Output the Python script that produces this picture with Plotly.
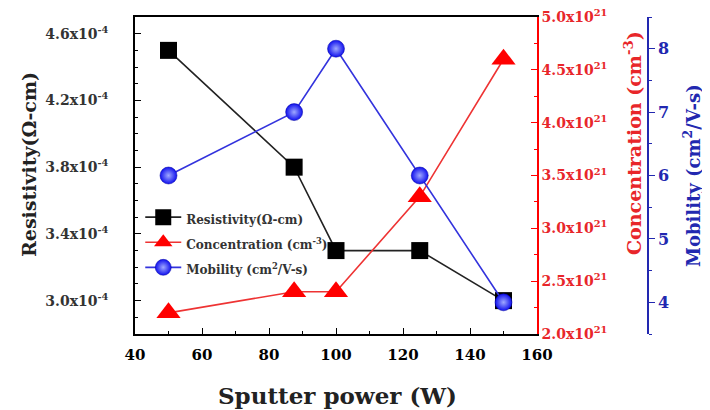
import plotly.graph_objects as go

# ---- data ----
power = [50, 87.5, 100, 125, 150]
resistivity = [4.50e-4, 3.80e-4, 3.30e-4, 3.30e-4, 3.00e-4]
concentration = [2.20e21, 2.40e21, 2.40e21, 3.30e21, 4.60e21]
mobility = [6.0, 7.0, 8.0, 6.0, 4.0]

x_ticks = [40, 60, 80, 100, 120, 140, 160]
res_tickvals = [3.0e-4, 3.4e-4, 3.8e-4, 4.2e-4, 4.6e-4]
res_ticktext = ["3.0x10<sup>-4</sup>", "3.4x10<sup>-4</sup>", "3.8x10<sup>-4</sup>",
                "4.2x10<sup>-4</sup>", "4.6x10<sup>-4</sup>"]
con_tickvals = [2.0e21, 2.5e21, 3.0e21, 3.5e21, 4.0e21, 4.5e21, 5.0e21]
con_ticktext = ["2.0x10<sup>21</sup>", "2.5x10<sup>21</sup>", "3.0x10<sup>21</sup>",
                "3.5x10<sup>21</sup>", "4.0x10<sup>21</sup>", "4.5x10<sup>21</sup>",
                "5.0x10<sup>21</sup>"]
mob_tickvals = [4, 5, 6, 7, 8]

FONT = "DejaVu Serif"
BLACK = "#000000"
RED = "#ff0000"
RED_TXT = "#e8262a"
BLUE = "#1010ee"
BLUE_TXT = "#2228b0"

def leg(s):
    return "<span style='font-size:12px'>" + s + "</span>"

fig = go.Figure()
fig.add_trace(go.Scatter(
    x=power, y=resistivity, name=leg("Resistivity(Ω-cm)"), yaxis="y",
    mode="lines+markers", line=dict(color="#222222", width=1.6),
    marker=dict(symbol="square", size=17, color=BLACK)))
fig.add_trace(go.Scatter(
    x=power, y=concentration, name=leg("Concentration (cm<sup>-3</sup>)"), yaxis="y2",
    mode="lines+markers", line=dict(color="#ee3333", width=1.6),
    marker=dict(symbol="triangle-up", size=21, color=RED)))
fig.add_trace(go.Scatter(
    x=power, y=mobility, name=leg("Mobility (cm<sup>2</sup>/V-s)"), yaxis="y3",
    mode="lines+markers", line=dict(color="#3333dd", width=1.6),
    marker=dict(symbol="circle", size=17, color=BLUE,
                gradient=dict(type="radial", color="#9fa8ff"),
                line=dict(width=0.5, color="#0000a0"))))

# The page body has an 8px margin, so the figure is laid out 8px smaller
W, H = 702, 402
ML, MT, MB, MR = 127, 9, 76, 50
PW = W - ML - MR
PH = H - MT - MB
xd = 402 / PW

fig.update_layout(
    width=W, height=H,
    margin=dict(l=ML, r=MR, t=MT, b=MB, autoexpand=False),
    paper_bgcolor="white", plot_bgcolor="white",
    font=dict(family=FONT, color=BLACK),
    showlegend=True,
    legend=dict(x=0.01, y=0.424, xanchor="left", yanchor="top",
                bgcolor="rgba(0,0,0,0)", borderwidth=0,
                font=dict(family=FONT, size=17, color="#333333", weight="bold"),
                itemwidth=36, tracegroupgap=0),
    xaxis=dict(domain=[0, xd], range=[40, 160], tickmode="array", tickvals=x_ticks,
               ticks="inside", ticklen=6, tickwidth=1.2, tickcolor=BLACK,
               minor=dict(dtick=10, tick0=40, ticks="inside", ticklen=3, tickcolor=BLACK),
               showline=True, linecolor=BLACK, linewidth=1.5, mirror=True,
               showgrid=False, zeroline=False, automargin=False, ticklabelstandoff=6,
               tickfont=dict(family=FONT, size=15, color=BLACK, weight="bold")),
    yaxis=dict(range=[2.8e-4, 4.7e-4], tickmode="array", tickvals=res_tickvals,
               ticktext=res_ticktext,
               ticks="inside", ticklen=6, tickwidth=1.2, tickcolor=BLACK,
               minor=dict(dtick=1e-5, tick0=3.0e-4, ticks="inside", ticklen=3, tickcolor=BLACK),
               showline=True, linecolor=BLACK, linewidth=1.5,
               showgrid=False, zeroline=False, automargin=False, ticklabelstandoff=22,
               tickfont=dict(family=FONT, size=14, color="#333333", weight="bold")),
    yaxis2=dict(overlaying="y", side="right", anchor="x",
                range=[2.0e21, 5.0e21], tickmode="array", tickvals=con_tickvals,
                ticktext=con_ticktext, ticklabeloverflow="allow",
                ticks="inside", ticklen=6, tickwidth=1.2, tickcolor=RED,
                minor=dict(dtick=0.25e21, tick0=2.0e21, ticks="inside", ticklen=3, tickcolor=RED),
                showline=True, linecolor=RED, linewidth=1.5,
                showgrid=False, zeroline=False, automargin=False,
                tickfont=dict(family=FONT, size=14, color=RED_TXT, weight="bold")),
    yaxis3=dict(overlaying="y", side="right", anchor="free", position=(648 - 135) / PW,
                range=[3.5, 8.5], tickmode="array", tickvals=mob_tickvals,
                ticks="outside", ticklen=6, tickwidth=1.2, tickcolor=BLUE_TXT,
                minor=dict(dtick=0.5, tick0=3.5, ticks="outside", ticklen=3, tickcolor=BLUE_TXT),
                showline=True, linecolor=BLUE_TXT, linewidth=1.5,
                showgrid=False, zeroline=False, automargin=False,
                tickfont=dict(family=FONT, size=16, color=BLUE_TXT, weight="bold")),
)

# positions given in final screenshot pixels (x from 135 = plot left, y from 334 = plot bottom)
def px_x(p):
    return (p - 135) / PW

def px_y(p):
    return (334 - p) / PH

annots = [
    dict(text="Resistivity(Ω-cm)", x=px_x(29), y=px_y(165), textangle=-90,
         font=dict(size=19, color="#222222")),
    dict(text="Sputter power (W)", x=px_x(337), y=px_y(395), textangle=0,
         font=dict(size=23, color="#222222")),
    dict(text="Concentration (cm<sup>-3</sup>)", x=px_x(633), y=px_y(143), textangle=-90,
         font=dict(size=19, color=RED_TXT)),
    dict(text="Mobility (cm<sup>2</sup>/V-s)", x=px_x(692), y=px_y(176), textangle=-90,
         font=dict(size=18, color=BLUE_TXT)),
]
for a in annots:
    fig.add_annotation(xref="paper", yref="paper", x=a["x"], y=a["y"],
                       xanchor="center", yanchor="middle", showarrow=False,
                       text=a["text"], textangle=a["textangle"],
                       font=dict(family=FONT, weight="bold", **a["font"]))

fig.write_html("out.html")
